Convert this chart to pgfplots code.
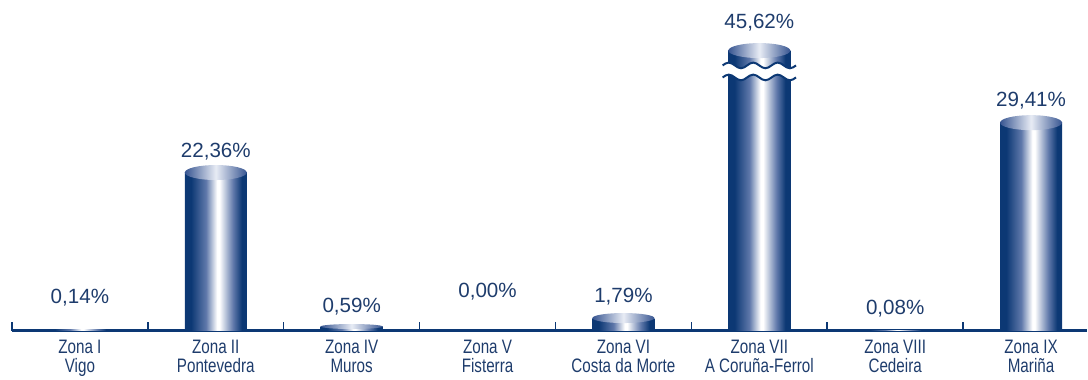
\documentclass[border=0pt]{standalone}
\usepackage{fontspec}
\setmainfont{Liberation Sans}
\newfontfamily\narrowfont[FakeStretch=0.78]{Liberation Sans}
\usepackage{pgfplots}
\usepackage{pgfplotstable}
\pgfplotsset{compat=1.18}
\usetikzlibrary{shapes.geometric}

\definecolor{navy}{RGB}{12,56,116}
\definecolor{navytext}{RGB}{30,60,108}
\definecolor{barmid}{RGB}{95,120,170}
\definecolor{topedge}{RGB}{55,85,145}
\definecolor{toplight}{RGB}{232,236,245}

% cylinder body and lid
\pgfdeclarehorizontalshading{cyl}{100bp}{color(0bp)=(navy); color(30bp)=(navy); color(42bp)=(barmid); color(51bp)=(white); color(53bp)=(white); color(64bp)=(barmid); color(71bp)=(navy); color(100bp)=(navy)}
\pgfdeclarehorizontalshading{cyltop}{100bp}{color(0bp)=(topedge); color(25bp)=(topedge); color(50bp)=(toplight); color(75bp)=(topedge); color(100bp)=(topedge)}

\pgfplotsset{cylbar/.style={ybar, bar width=62pt, bar shift=0pt, draw=none, shading=cyl, forget plot}}

% lids of the cylinders
\pgfplotstableread{
x y h
1 22.36 15
2 0.59 5
4 1.79 10
5 39.6 15
7 29.41 15
}\lids

\pgfplotstableread{
x ly lab
0 4.66 0,14\%
1 25.3 22,36\%
2 3.39 0,59\%
3 5.51 0,00\%
4 4.80 1,79\%
5 43.6 45,62\%
6 3.1 0,08\%
7 32.5 29,41\%
}\labels

\begin{document}
\begin{tikzpicture}
\begin{axis}[
    scale only axis,
    width=1075.8pt, height=331pt,
    xmin=-0.5, xmax=7.41, ymin=0, ymax=46.75,
    axis x line*=bottom, axis y line=none,
    axis line style={navy, line width=2.5pt, -},
    xtick={0,...,7},
    xticklabels={{Zona I\\Vigo},{Zona II\\Pontevedra},{Zona IV\\Muros},{Zona V\\Fisterra},{Zona VI\\Costa da Morte},{Zona VII\\A Coruña-Ferrol},{Zona VIII\\Cedeira},{Zona IX\\Mariña}},
    major tick length=0pt,
    minor xtick={-0.5,0.5,...,6.5},
    minor tick length=9pt,
    tick align=inside,
    minor tick style={navy, line width=1.5pt},
    xticklabel style={font=\narrowfont\fontsize{19.5}{19}\selectfont, text=navytext, align=center, yshift=-6pt},
    clip=false,
]
% one plot per bar so each cylinder gets its own shading
\addplot[cylbar] coordinates {(0,0.14)};
\addplot[cylbar] coordinates {(1,22.36)};
\addplot[cylbar] coordinates {(2,0.59)};
\addplot[cylbar] coordinates {(4,1.79)};
\addplot[cylbar] coordinates {(5,39.6)}; % 45.62, drawn cut
\addplot[cylbar] coordinates {(6,0.08)};
\addplot[cylbar] coordinates {(7,29.41)};

\addplot[draw=none, mark=none, nodes near coords={},
    visualization depends on={\thisrow{h} \as \eh},
    every node near coord/.style={ellipse, inner sep=0pt, minimum width=62pt, minimum height=\eh pt, shading=cyltop, anchor=center}]
    table[x=x, y=y] {\lids};

\addplot[draw=none, mark=none, point meta=explicit symbolic, nodes near coords,
    every node near coord/.style={anchor=center, font=\fontsize{20.6}{24}\selectfont, text=navytext}]
    table[x=x, y=ly, meta=lab] {\labels};

% break on the zone VII bar
\fill[white] (4.73,37.5) sin (4.775,37.9) cos (4.82,37.5) sin (4.865,37.1) cos (4.91,37.5) sin (4.955,37.9) cos (5.0,37.5) sin (5.045,37.1) cos (5.09,37.5) sin (5.135,37.9) cos (5.18,37.5) sin (5.225,37.1) cos (5.27,37.5)
    -- (5.27,35.8) sin (5.225,35.4) cos (5.18,35.8) sin (5.135,36.2) cos (5.09,35.8) sin (5.045,35.4) cos (5.0,35.8) sin (4.955,36.2) cos (4.91,35.8) sin (4.865,35.4) cos (4.82,35.8) sin (4.775,36.2) cos (4.73,35.8) -- cycle;
\draw[navy, line width=2pt] (4.73,37.5) sin (4.775,37.9) cos (4.82,37.5) sin (4.865,37.1) cos (4.91,37.5) sin (4.955,37.9) cos (5.0,37.5) sin (5.045,37.1) cos (5.09,37.5) sin (5.135,37.9) cos (5.18,37.5) sin (5.225,37.1) cos (5.27,37.5);
\draw[navy, line width=2pt] (4.73,35.8) sin (4.775,36.2) cos (4.82,35.8) sin (4.865,35.4) cos (4.91,35.8) sin (4.955,36.2) cos (5.0,35.8) sin (5.045,35.4) cos (5.09,35.8) sin (5.135,36.2) cos (5.18,35.8) sin (5.225,35.4) cos (5.27,35.8);
\end{axis}
\path (current axis.south west) ++(-12pt,0) coordinate (padleft);
\path (current axis.north west) coordinate (padtop);
\end{tikzpicture}
\end{document}
